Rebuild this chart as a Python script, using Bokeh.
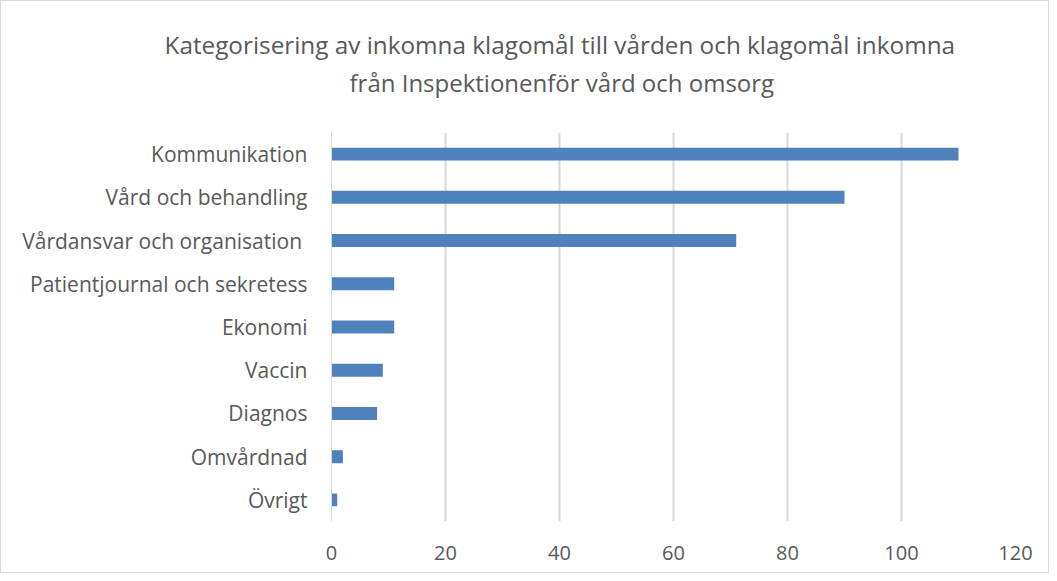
from bokeh.plotting import figure
from bokeh.models import FactorRange, Range1d, FixedTicker, Title, ColumnDataSource
from bokeh.embed import file_html
from bokeh.resources import INLINE

categories = ["Kommunikation", "Vård och behandling", "Vårdansvar och organisation ",
              "Patientjournal och sekretess", "Ekonomi", "Vaccin", "Diagnos",
              "Omvårdnad", "Övrigt"]
values = [110, 90, 71, 11, 11, 9, 8, 2, 1]
x_ticks = [0, 20, 40, 60, 80, 100, 120]
title_lines = ["Kategorisering av inkomna klagomål till vården och klagomål inkomna",
               "från Inspektionenför vård och omsorg"]

FONT = "Open Sans"
TXT = "#595959"
GRID = "#d9d9d9"

src = ColumnDataSource(dict(cat=categories, val=values))

p = figure(width=1049, height=573, output_backend="svg", toolbar_location=None,
           title_location=None,
           y_range=FactorRange(factors=list(reversed(categories))),
           x_range=Range1d(0, 120))
p.min_border_left = 330
p.min_border_right = 35
p.min_border_top = 131
p.min_border_bottom = 53
p.outline_line_color = None
p.background_fill_color = "white"
p.border_fill_color = "white"

p.hbar(y="cat", right="val", left=0, height=0.3, source=src,
       fill_color="#4f81bd", line_color=None)

p.xaxis.ticker = FixedTicker(ticks=x_ticks)
p.xaxis.axis_line_color = None
p.xaxis.major_tick_line_color = None
p.xaxis.minor_tick_line_color = None
p.xaxis.major_label_text_font = FONT
p.xaxis.major_label_text_font_size = "20px"
p.xaxis.major_label_text_color = TXT
p.xaxis.major_label_standoff = 18

p.yaxis.axis_line_color = GRID
p.yaxis.axis_line_width = 1
p.yaxis.major_tick_line_color = None
p.yaxis.minor_tick_line_color = None
p.yaxis.major_label_text_font = FONT
p.yaxis.major_label_text_font_size = "21px"
p.yaxis.major_label_text_color = TXT
p.yaxis.major_label_standoff = 18

p.xgrid.grid_line_color = GRID
p.xgrid.grid_line_width = 2
p.ygrid.grid_line_color = None

# second line nearest to the frame, first line above it
p.add_layout(Title(text=title_lines[1], align="left", offset=18, standoff=67,
                   text_font=FONT, text_font_size="24px", text_font_style="normal",
                   text_color=TXT), "above")
p.add_layout(Title(text=title_lines[0], align="left", offset=-167, standoff=-61,
                   text_font=FONT, text_font_size="24.3px", text_font_style="normal",
                   text_color=TXT), "above")

p.styles = {"border": "1px solid #d9d9d9"}

open("out.html", "w").write(file_html(p, INLINE))
